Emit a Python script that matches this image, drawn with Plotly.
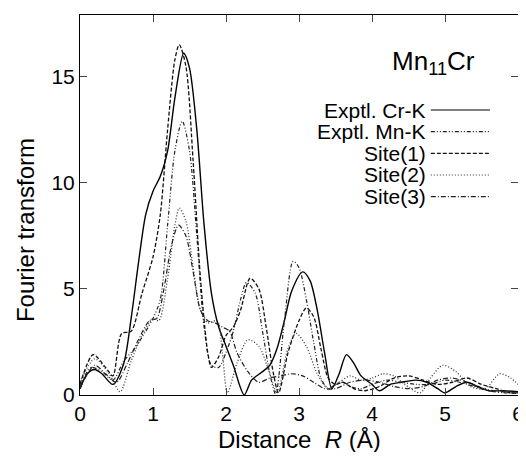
import plotly.graph_objects as go

# ---- data ----
cr_x = [0, 0.1, 0.2, 0.3, 0.45, 0.6, 0.7, 0.8, 0.9, 1.0, 1.1, 1.2, 1.3, 1.42, 1.5, 1.6, 1.7, 1.8, 1.9, 2.0, 2.1, 2.25,
        2.35, 2.5, 2.6, 2.7, 2.8, 2.9, 3.05, 3.15, 3.25, 3.35, 3.45, 3.55, 3.65, 3.75, 3.85, 4.0, 4.1, 4.25, 4.4,
        4.6, 4.75, 4.9, 5.0, 5.15, 5.3, 5.45, 5.6, 5.8, 6.0]
cr_y = [0.3, 1.0, 1.2, 1.0, 0.5, 1.5, 3.6, 6.2, 8.5, 9.6, 10.3, 11.5, 14.0, 16.1, 15.4, 12.5, 8.0, 4.8, 3.2, 2.3, 1.4, 0.0,
        0.7, 1.1, 1.4, 2.2, 3.5, 4.9, 5.8, 5.4, 4.0, 2.0, 0.3, 1.0, 1.9, 1.5, 0.9, 0.5, 0.2, 0.5, 0.6,
        0.7, 0.6, 0.3, 0.1, 0.4, 0.6, 0.4, 0.2, 0.2, 0.15]

mn_x = [0, 0.15, 0.3, 0.45, 0.6, 0.75, 0.9, 1.0, 1.1, 1.2, 1.3, 1.4, 1.5, 1.6, 1.7, 1.8, 1.9, 2.0, 2.1, 2.2, 2.28,
        2.4, 2.5, 2.6, 2.68, 2.8, 2.92, 3.0, 3.1, 3.2, 3.3, 3.4, 3.5, 3.6, 3.7, 3.85, 4.0, 4.2, 4.4, 4.6, 4.8,
        5.0, 5.2, 5.4, 5.6, 5.8, 6.0]
mn_y = [0.4, 1.3, 1.1, 0.7, 1.6, 2.2, 3.0, 3.6, 4.5, 8.0, 11.5, 12.9, 11.5, 7.5, 3.2, 1.4, 1.3, 2.0, 3.0, 4.5, 5.3,
        4.8, 3.0, 1.0, 0.05, 3.5, 6.3, 6.0, 4.5, 2.5, 0.8, 0.3, 0.5, 0.6, 0.4, 0.3, 0.5, 0.7, 0.6, 0.5, 0.5,
        0.7, 0.6, 0.4, 0.2, 0.1, 0.1]

s1_x = [0, 0.18, 0.35, 0.45, 0.57, 0.7, 0.85, 1.0, 1.1, 1.2, 1.3, 1.36, 1.45, 1.55, 1.65, 1.75, 1.8, 1.9, 2.0, 2.1,
        2.2, 2.33, 2.45, 2.55, 2.65, 2.72, 2.85, 3.0, 3.1, 3.2, 3.3, 3.4, 3.5, 3.6, 3.75, 3.9, 4.1, 4.3, 4.5,
        4.7, 4.9, 5.1, 5.3, 5.5, 5.7, 5.9, 6.0]
s1_y = [0.5, 1.9, 1.3, 0.9, 2.9, 3.0, 4.8, 6.5, 8.5, 12.5, 15.8, 16.5, 15.5, 11.0, 5.5, 2.0, 1.3, 1.8, 2.8, 3.2,
        4.0, 5.5, 5.0, 3.2, 1.0, 0.1, 2.0, 3.5, 4.1, 3.7, 2.2, 0.8, 0.5, 0.6, 0.3, 0.2, 0.4, 0.8, 0.9,
        0.7, 0.5, 0.6, 0.8, 0.5, 0.3, 0.1, 0.1]

s2_x = [0, 0.2, 0.4, 0.55, 0.7, 0.85, 1.0, 1.08, 1.2, 1.3, 1.36, 1.45, 1.55, 1.65, 1.75, 1.88, 1.95, 2.02, 2.15,
        2.3, 2.45, 2.6, 2.7, 2.85, 2.96, 3.1, 3.25, 3.4, 3.55, 3.7, 3.85, 4.0, 4.15, 4.3, 4.45, 4.66, 4.8, 4.97,
        5.15, 5.35, 5.55, 5.75, 5.9, 6.0]
s2_y = [0.6, 1.7, 1.0, 0.15, 1.6, 2.8, 3.6, 3.5, 5.5, 8.0, 8.8, 8.2, 6.0, 4.0, 3.4, 3.5, 2.0, 0.1, 1.5,
        2.6, 2.3, 1.0, 0.1, 2.2, 2.9, 2.3, 1.0, 0.3, 0.6, 0.9, 0.7, 0.8, 1.0, 0.9, 0.5, 0.1, 0.8, 1.4,
        1.1, 0.4, 0.3, 1.0, 0.8, 0.5]

s3_x = [0, 0.2, 0.35, 0.5, 0.65, 0.8, 0.95, 1.05, 1.15, 1.25, 1.35, 1.45, 1.55, 1.65, 1.75, 1.85, 1.95, 2.05,
        2.15, 2.3, 2.45, 2.6, 2.75, 2.9, 3.05, 3.2, 3.35, 3.5, 3.7, 3.9, 4.1, 4.3, 4.5, 4.7, 4.9, 5.1, 5.3,
        5.5, 5.7, 5.9, 6.0]
s3_y = [0.3, 1.4, 1.0, 0.6, 1.5, 2.6, 3.5, 3.6, 5.0, 7.0, 8.0, 7.5, 5.8, 4.0, 3.5, 3.4, 3.2, 3.0,
        2.0, 1.1, 0.6, 0.8, 0.9, 1.0, 0.9, 0.6, 0.3, 0.3, 0.6, 0.7, 0.6, 0.4, 0.3, 0.4, 0.7, 0.8, 0.6,
        0.3, 0.2, 0.1, 0.1]

series_names = ["Exptl. Cr-K", "Exptl. Mn-K", "Site(1)", "Site(2)", "Site(3)"]
x_ticks = [0, 1, 2, 3, 4, 5, 6]
y_ticks = [0, 5, 10, 15]

# ---- styles ----
dashes = ["solid", "4px,2px,1px,2px,1px,2px", "4px,2px", "1px,2px", "5px,2px,1px,2px"]
colors = ["#000000", "#222222", "#111111", "#333333", "#222222"]
widths = [1.4, 1.2, 1.3, 1.3, 1.2]

fig = go.Figure()
data = [(cr_x, cr_y), (mn_x, mn_y), (s1_x, s1_y), (s2_x, s2_y), (s3_x, s3_y)]
for (xs, ys), name, d, c, w in zip(data, series_names, dashes, colors, widths):
    fig.add_trace(go.Scatter(x=xs, y=ys, mode="lines", name=name,
                             line=dict(color=c, width=w, dash=d, shape="spline", smoothing=0.8),
                             showlegend=False, cliponaxis=True))

font_family = "Liberation Sans, Arial, sans-serif"

# legend drawn inside the plot (text left of line sample, gnuplot style)
row_y0 = 0.75
row_step = 0.057
for i, (name, d, c) in enumerate(zip(series_names, dashes, colors)):
    yy = row_y0 - i * row_step
    fig.add_annotation(x=0.795, y=yy, xref="paper", yref="paper", text=name, showarrow=False,
                       xanchor="right", yanchor="middle", font=dict(size=21, color="black", family=font_family))
    fig.add_shape(type="line", xref="paper", yref="paper", x0=0.801, x1=0.936, y0=yy, y1=yy,
                  line=dict(color=c, width=1.2, dash=d))

fig.add_annotation(x=0.906, y=0.876, xref="paper", yref="paper", text="Mn<sub>11</sub>Cr", showarrow=False,
                   xanchor="right", yanchor="middle", font=dict(size=26, color="black", family=font_family))

# axis titles
fig.add_annotation(x=0.5, y=-0.118, xref="paper", yref="paper", text="Distance  <i>R</i> (Å)", showarrow=False,
                   xanchor="center", yanchor="middle", font=dict(size=24, color="black", family=font_family))
fig.add_annotation(x=-0.1256, y=0.434, xref="paper", yref="paper", text="Fourier transform", showarrow=False,
                   textangle=-90, xanchor="center", yanchor="middle",
                   font=dict(size=24, color="black", family=font_family))

# the page body adds an 8px offset, so margins are shifted to compensate
fig.update_layout(
    width=518, height=444,
    margin=dict(l=72, r=8, t=7, b=57, autoexpand=False),
    plot_bgcolor="white", paper_bgcolor="white",
    font=dict(family=font_family, color="black", size=21),
    xaxis=dict(range=[0, 6], tickvals=x_ticks, ticks="inside", ticklen=7, mirror="ticks",
               showline=True, linecolor="black", linewidth=1, showgrid=False, zeroline=False,
               tickfont=dict(size=21), automargin=False, ticklabeloverflow="allow"),
    yaxis=dict(range=[0, 17.9], tickvals=y_ticks, ticks="inside", ticklen=7, mirror="ticks",
               showline=True, linecolor="black", linewidth=1, showgrid=False, zeroline=False,
               tickfont=dict(size=21), automargin=False),
)

fig.write_html("out.html")
